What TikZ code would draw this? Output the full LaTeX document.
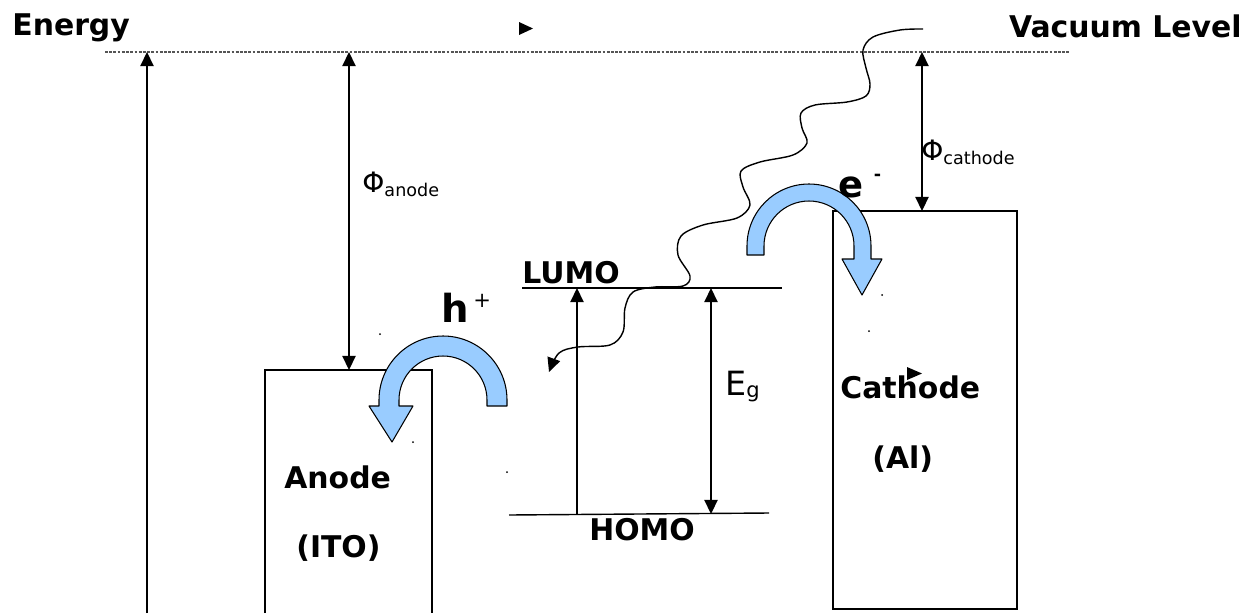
\documentclass[tikz,border=0pt]{standalone}
\usepackage{fontspec}
\setmainfont{DejaVu Sans}
\usetikzlibrary{arrows.meta}
\definecolor{carrier}{HTML}{99CCFF}
\definecolor{vacgray}{HTML}{555555}

\begin{document}
\begin{tikzpicture}[x=0.02cm, y=-0.02cm, >={Triangle[length=8pt,width=7.5pt]},
    lbl/.style={inner sep=0pt, anchor=base west, font=\fontsize{17}{20}\selectfont\bfseries},
    carrierarrow/.style={fill=carrier, draw=black, line width=0.6pt, line join=round}]
    \useasboundingbox (0,0) rectangle (1255,613);

    \coordinate (V1) at (105,52);
    \coordinate (V2) at (1070,52);
    \coordinate (E0) at (147,613);
    \coordinate (E1) at (147,52);
    \coordinate (AV) at (349,52);
    \coordinate (AT) at (349,370);
    \coordinate (CV) at (922,52);
    \coordinate (CT) at (922,211);
    \coordinate (L1) at (522,288);
    \coordinate (L2) at (782,288);
    \coordinate (H1) at (509,515);
    \coordinate (H2) at (769,513);

    % Vacuum level
    \draw[vacgray, line width=0.9pt, dash pattern=on 1.6pt off 0.8pt] (V1) -- (V2);
    \node[lbl] (energy) at (12,35) {Energy};
    \node[lbl, anchor=base east] (vacuum) at (1242,37) {Vacuum Level};

    % Energy axis
    \draw[->, line width=0.9pt] (E0) -- (E1);

    % Anode
    \draw[line width=0.8pt] (265,613) -- (265,370) -- (432,370) -- (432,613);
    \node[lbl] (anode) at (284,488) {Anode};
    \node[lbl] (ito) at (296,557) {(ITO)};
    \draw[<->, line width=0.9pt] (AV) -- (AT);
    \node[inner sep=0pt, anchor=base west] (phia) at (362,192)
        {\fontsize{16}{18}\selectfont Φ\raisebox{-2.5pt}{\fontsize{10}{12}\selectfont anode}};

    % Cathode
    \draw[line width=0.8pt] (833,211) rectangle (1017,609);
    \node[lbl] (cathode) at (840,398) {Cathode};
    \node[lbl] (al) at (872,468) {(Al)};
    \draw[<->, line width=0.9pt] (CV) -- (CT);
    \node[inner sep=0pt, anchor=base west] (phic) at (921,160)
        {\fontsize{16}{18}\selectfont Φ\raisebox{-2.5pt}{\fontsize{10}{12}\selectfont cathode}};

    % LUMO and HOMO
    \draw[line width=0.8pt] (L1) -- (L2);
    \draw[line width=0.8pt] (H1) -- (H2);
    \node[lbl] (lumo) at (522,283) {LUMO};
    \node[lbl] (homo) at (589,540) {HOMO};
    \coordinate (X0) at (577,514);
    \coordinate (X1) at (577,288);
    \draw[->, line width=0.9pt] (X0) -- (X1);
    \coordinate (G0) at (711,288);
    \coordinate (G1) at (711,514);
    \draw[<->, line width=0.9pt] (G0) -- (G1);
    \node[inner sep=0pt, anchor=base west] (eg) at (725,395)
        {\fontsize{19}{22}\selectfont E\raisebox{-1.5pt}{\fontsize{12}{14}\selectfont g}};

    % Photon
    \coordinate (P0) at (923,29);
    \coordinate (P1) at (549,372);
    \draw[->, line width=0.8pt] plot[smooth, tension=0.55] coordinates {(P0) (900,30) (873,37) (863,50)
        (866,68) (870,84) (866,96) (847,102) (815,105) (801,113) (802,128) (807,143) (793,155)
        (760,162) (741,171) (743,187) (750,205) (737,218) (703,225) (681,236) (678,255) (690,276)
        (683,286) (655,287) (633,292) (625,308) (623,332) (610,345) (578,347) (559,353) (P1)};

    % Hole injection
    \draw[carrierarrow] (507,406) -- (507,400) arc[start angle=0, end angle=-180, radius=64]
        -- (379,406) -- (369,406) -- (392,442) -- (413,406) -- (399,406) -- (399,400)
        arc[start angle=180, end angle=360, radius=44] -- (487,406) -- cycle;
    \node[inner sep=0pt, anchor=base west] (hole) at (441,322)
        {\fontsize{22}{24}\selectfont\bfseries h\hspace{2.5pt}\raisebox{8.5pt}{\fontsize{12}{12}\selectfont\mdseries +}};

    % Electron injection
    \draw[carrierarrow] (747,255) -- (747,246) arc[start angle=180, end angle=360, radius=62]
        -- (871,259) -- (882,259) -- (862,295) -- (842,259) -- (854,259) -- (854,246)
        arc[start angle=0, end angle=-180, radius=45] -- (764,255) -- cycle;
    \node[inner sep=0pt, anchor=base west] (elec) at (838,197)
        {\fontsize{21}{24}\selectfont\bfseries e\hspace{6pt}\raisebox{9.5pt}{\fontsize{10}{12}\selectfont -}};

    % Stray marks
    \fill (519,22) -- (533,28.5) -- (519,35) -- cycle;
    \fill (907,367) -- (922,373.5) -- (907,380) -- cycle;
    \foreach \p in {(380,334), (413,442), (507,472), (882,295), (869,331)}
        \fill \p circle (1);
\end{tikzpicture}
\end{document}
